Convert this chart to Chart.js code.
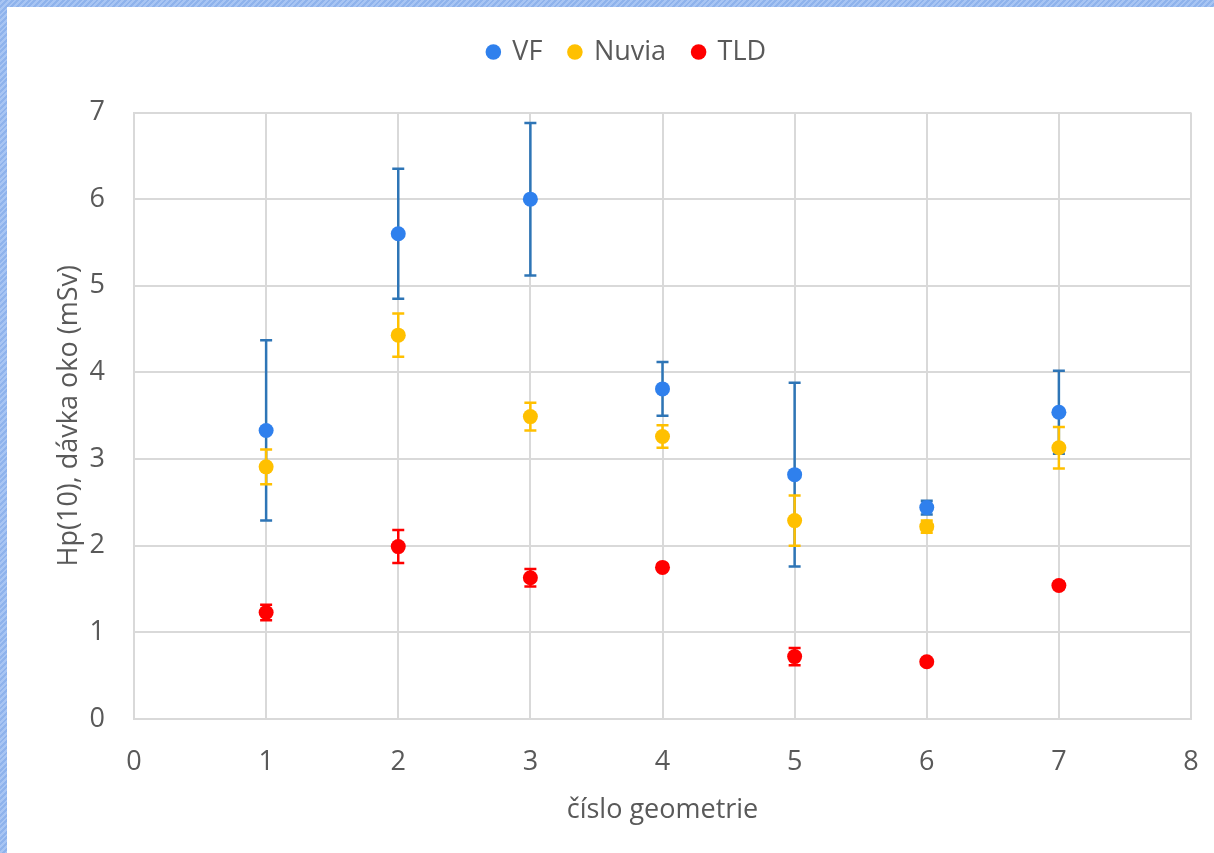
<!DOCTYPE html>
<html>
<head>
<meta charset="utf-8">
<script src="https://cdn.jsdelivr.net/npm/chart.js@4/dist/chart.umd.min.js"></script>
<style>
  html, body { margin: 0; padding: 0; }
  #frame {
    position: relative;
    width: 1214px; height: 853px;
    background: repeating-linear-gradient(135deg, #8fb3ec 0px, #8fb3ec 2px, #a8c5f3 2px, #a8c5f3 4px);
  }
  #sheet {
    position: absolute; left: 7px; top: 7px;
    width: 1207px; height: 846px;
    background: #ffffff;
  }
  #chart { display: block; }
</style>
</head>
<body>
<div id="frame"><div id="sheet"><canvas id="chart" width="1207" height="846"></canvas></div></div>
<script>
// Eye-lens dose Hp(10) per measurement geometry, three dosimeter types
const geometry = [1, 2, 3, 4, 5, 6, 7];

const vfDose   = [3.33, 5.60, 6.00, 3.81, 2.82, 2.44, 3.54];
const vfErr    = [1.04, 0.75, 0.88, 0.31, 1.06, 0.08, 0.48];

const nuviaDose = [2.91, 4.43, 3.49, 3.26, 2.29, 2.22, 3.13];
const nuviaErr  = [0.20, 0.25, 0.16, 0.13, 0.29, 0.07, 0.24];

const tldDose  = [1.23, 1.99, 1.63, 1.75, 0.72, 0.66, 1.54];
const tldErr   = [0.09, 0.19, 0.10, 0.03, 0.10, 0.03, 0.04];

const xTicks = [0, 1, 2, 3, 4, 5, 6, 7, 8];
const yTicks = [0, 1, 2, 3, 4, 5, 6, 7];

const FONT = "Open Sans";
const FONT_SIZE = 27;
const TEXT = "#595959";
const GRID = "#d9d9d9";

function points(values) {
  return geometry.map((g, i) => ({ x: g, y: values[i] }));
}

// Vertical error bars with caps, drawn under each series' markers
const errorBars = {
  id: "errorBars",
  beforeDatasetDraw(chart, args) {
    const ds = chart.data.datasets[args.index];
    if (!ds.errors) return;
    const xs = chart.scales.x, ys = chart.scales.y;
    const ctx = chart.ctx;
    ctx.save();
    ctx.strokeStyle = ds.errorColor;
    ctx.lineWidth = 2.5;
    ds.data.forEach((p, i) => {
      const e = ds.errors[i];
      const px = xs.getPixelForValue(p.x);
      const top = ys.getPixelForValue(p.y + e);
      const bot = ys.getPixelForValue(p.y - e);
      ctx.beginPath();
      ctx.moveTo(px, top); ctx.lineTo(px, bot);
      ctx.moveTo(px - 6, top); ctx.lineTo(px + 6, top);
      ctx.moveTo(px - 6, bot); ctx.lineTo(px + 6, bot);
      ctx.stroke();
    });
    ctx.restore();
  }
};

// Legend row: extra space below it, and centred a little right of the canvas middle
const legendPlacement = {
  id: "legendPlacement",
  beforeLayout(chart) {
    const lg = chart.legend;
    if (lg && !lg._gapPatched) {
      const fit = lg.fit;
      lg.fit = function () { fit.call(this); this.height += 37; };
      lg._gapPatched = true;
    }
  },
  afterLayout(chart) {
    const lg = chart.legend;
    if (lg) { lg.left += 28; lg.right += 28; }
  }
};

const axisFont = { family: FONT, size: FONT_SIZE };

new Chart(document.getElementById("chart"), {
  type: "scatter",
  data: {
    datasets: [
      { label: "VF", data: points(vfDose), errors: vfErr, errorColor: "#2e75b6",
        backgroundColor: "#2f80ed", borderColor: "#2f80ed", pointRadius: 7.5, pointHoverRadius: 7.5, borderWidth: 0, order: 3 },
      { label: "Nuvia", data: points(nuviaDose), errors: nuviaErr, errorColor: "#ffc000",
        backgroundColor: "#ffc000", borderColor: "#ffc000", pointRadius: 7.5, pointHoverRadius: 7.5, borderWidth: 0, order: 2 },
      { label: "TLD", data: points(tldDose), errors: tldErr, errorColor: "#ff0000",
        backgroundColor: "#ff0000", borderColor: "#ff0000", pointRadius: 7.5, pointHoverRadius: 7.5, borderWidth: 0, order: 1 }
    ]
  },
  options: {
    responsive: false,
    animation: false,
    events: [],
    layout: { padding: { top: 4.5, right: 23, bottom: 0, left: 0 } },
    plugins: {
      tooltip: { enabled: false },
      legend: {
        position: "top",
        labels: {
          usePointStyle: true,
          pointStyle: "circle",
          boxWidth: 11,
          boxHeight: 11,
          padding: 27,
          color: TEXT,
          font: axisFont,
          sort: (a, b) => a.datasetIndex - b.datasetIndex
        }
      }
    },
    scales: {
      x: {
        type: "linear",
        min: 0, max: 8,
        afterBuildTicks: (s) => { s.ticks = xTicks.map(v => ({ value: v })); },
        afterFit: (s) => { s.height = 134; s.paddingRight = 8; s.paddingLeft = 8; },
        grid: { color: GRID, lineWidth: 2, drawTicks: false },
        border: { color: GRID, width: 2 },
        ticks: { color: TEXT, font: axisFont, padding: 27 },
        title: { display: true, text: "číslo geometrie", color: TEXT, font: axisFont, padding: 26 }
      },
      y: {
        type: "linear",
        min: 0, max: 7,
        afterBuildTicks: (s) => { s.ticks = yTicks.map(v => ({ value: v })); },
        afterFit: (s) => { s.width = 127; },
        grid: { color: GRID, lineWidth: 2, drawTicks: false },
        border: { color: GRID, width: 2 },
        ticks: { color: TEXT, font: axisFont, padding: 29 },
        title: { display: true, text: "Hp(10), dávka oko (mSv)", color: TEXT, font: axisFont, padding: 46 }
      }
    }
  },
  plugins: [errorBars, legendPlacement]
});
</script>
</body>
</html>
